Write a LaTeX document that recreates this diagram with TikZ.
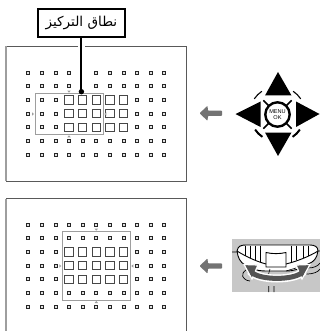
\documentclass[tikz,border=0pt]{standalone}
\usepackage{fontspec}
\usetikzlibrary{calc}
\TeXXeTstate=1
\newfontfamily\arabicfont[Script=Arabic]{DejaVu Sans}
\setsansfont{Liberation Sans}
\definecolor{fgrey}{gray}{0.62}
\definecolor{agrey}{gray}{0.45}
\definecolor{dialdark}{gray}{0.33}
\tikzset{x=1pt,y=-1pt,
 small/.style={draw=black!85,line width=0.95pt,fill=black!12,minimum size=3pt,inner sep=0pt},
 big/.style={draw=black!72,line width=1pt,fill=white,minimum size=8.4pt,inner sep=0pt},
 frm/.style={draw=black!65,line width=0.8pt},
 frmleft/.style={draw=fgrey,line width=1.6pt},
 zone/.style={draw=fgrey,line width=1pt},
 leader/.style={draw=black,line width=2.1pt},
 halo/.style={draw=white,line width=6.5pt},
 gokey/.style={fill=agrey,rounded corners=0.7pt},
}
\newcommand{\afgrid}[2]{% y offset, name prefix
 \foreach \r in {0,...,6}{\foreach \c in {0,...,10}{
  \pgfmathsetmacro{\px}{28.3+13.6*\c}\pgfmathsetmacro{\py}{#1+13.65*\r}
  \node[small] (s#2r\r c\c) at (\px,\py) {};}}
 \foreach \r in {2,3,4}{\foreach \c in {3,...,7}{
  \pgfmathsetmacro{\px}{28.3+13.6*\c}\pgfmathsetmacro{\py}{#1+13.65*\r}
  \node[big] (b#2r\r c\c) at (\px,\py) {};}}
}
\begin{document}
\begin{tikzpicture}
\useasboundingbox (0,0) rectangle (320,331);
% frames
\draw[frm] (6,46.4) rectangle (186.7,181);
\draw[frm] (6,331.5) -- (6,198.7) -- (186.7,198.7) -- (186.7,331.5);
\draw[frmleft] (6,46.4)--(6,181) (6,198.7)--(6,331);
% upper grid
\afgrid{72.7}{u}
\draw[zone] (35,93.7) rectangle (103.3,134.3);
\fill[fgrey] (69,92.7) -- (67.3,90.7)--(70.7,90.7)--cycle (69,135.3)--(67.3,137.3)--(70.7,137.3)--cycle (34,114)--(32,112.3)--(32,115.7)--cycle (104.3,114)--(106.3,112.3)--(106.3,115.7)--cycle;
% lower grid
\afgrid{224.7}{l}
\draw[zone] (62.3,231.7) rectangle (130.3,300);
\fill[fgrey] (96.3,230.7)--(94.6,228.7)--(98,228.7)--cycle (96.3,301)--(94.6,303)--(98,303)--cycle (61.3,266)--(59.3,264.3)--(59.3,267.7)--cycle (131.3,266)--(133.3,264.3)--(133.3,267.7)--cycle;
% label
\coordinate (dot) at (81.4,91.7);
\node[draw=black,line width=2pt,fill=white,minimum width=87.5pt,minimum height=28pt,inner sep=0pt,font=\arabicfont\fontsize{13.6}{15}\selectfont] (lab) at (81.4,23.3) {\beginR نطاق التركيز\endR};
\draw[halo] (lab.south) -- (dot);
\draw[leader] (lab.south) -- (dot);
\fill[black] (dot) circle (2.7pt);
% arrows
\foreach \y in {113.3,266}{
 \fill[gokey] (199.5,\y) -- (207.5,\y-7.5) -- (208,\y-2.6) -- (222,\y-2.6) -- (222,\y+2.6) -- (208,\y+2.6) -- (207.5,\y+7.5) -- cycle;
}
% nav cluster
\coordinate (c) at (277.5,114.5);
\fill[black] (278,72) -- (291.5,95.5) -- (265,95.5) -- cycle;
\fill[black] (278,156) -- (291.5,132.5) -- (265,132.5) -- cycle;
\fill[black] (235.5,114) -- (260.5,101.5) -- (260.5,127) -- cycle;
\fill[black] (319.5,114) -- (296,101.5) -- (296,127) -- cycle;
\draw[black,line width=2.4pt] (c) circle (12.2pt);
\foreach \a in {45,135,225,315}{
 \draw[black,line width=1.5pt] ($(c)+(\a:12pt)$) -- ($(c)+(\a:20pt)$);
}
\foreach \a in {45,135}{
 \draw[black,line width=1.1pt] ($(c)+(\a-11:28pt)$) arc[start angle=\a-11,end angle=\a+11,radius=28pt];
}
\foreach \a in {225,315}{
 \draw[black,line width=2pt] ($(c)+(\a-11:27pt)$) arc[start angle=\a-11,end angle=\a+11,radius=27pt];
}
\node[font=\sffamily\fontsize{5.6}{5.4}\selectfont,align=center,inner sep=0pt] (menu) at (c) {MENU\\OK};
% dial
\fill[black!22] (232,239) rectangle (320,292);
% side curves behind
\draw[black,line width=0.7pt] (232,252) -- (238,252) (316,251) -- (320,251)
  (308,268) .. controls (314,268) and (318,266) .. (320,263)
  (306,274) .. controls (314,274) and (318,272) .. (320,269)
  (246,270) .. controls (240,274) and (242,280) .. (250,281)
  (268.7,286) -- (268.7,292) (274,286) -- (274,292);
% dial body
\draw[black,fill=white,line width=0.9pt] (237,251) .. controls (238,246) and (241,245) .. (246,245) -- (310,245) .. controls (315,245) and (318,247) .. (318,251) .. controls (317,258) and (314,262) .. (308,264) .. controls (300,269) and (294,271) .. (286,271) -- (266,271) .. controls (256,271) and (250,268) .. (245,265) .. controls (240,262) and (238,258) .. (237,251) -- cycle;
\draw[black,line width=0.9pt] (237,251) .. controls (245,256) and (255,261) .. (266,264) (318,251) .. controls (310,256) and (298,261) .. (286,264);
\draw[black,line width=0.9pt] (266,267) -- (266,252.5) .. controls (272,254) and (280,254) .. (286,252.5) -- (286,267) -- cycle;
\foreach \x/\yb in {245/255.5,250/257.5,255/259.5,260/261.5,291/262,296/260,303/257.5,308/255.5}{\draw[black,line width=0.9pt] (\x,245.5) -- (\x,\yb);}
\draw[black,line width=0.6pt] (268,276) -- (270,269) (286,271) -- (296,268);
% turning arrow
\draw[white,line width=8pt] (250,271) .. controls (258,281) and (296,281) .. (304,271);
\fill[dialdark,draw=white,line width=1.2pt,line join=miter] (244,264.5) -- (258,265) -- (252,279) -- cycle (310,264.5) -- (296,265) -- (302,279) -- cycle;
\draw[dialdark,line width=5pt] (251.5,272) .. controls (259,280.5) and (295,280.5) .. (302.5,272);
\end{tikzpicture}
\end{document}
